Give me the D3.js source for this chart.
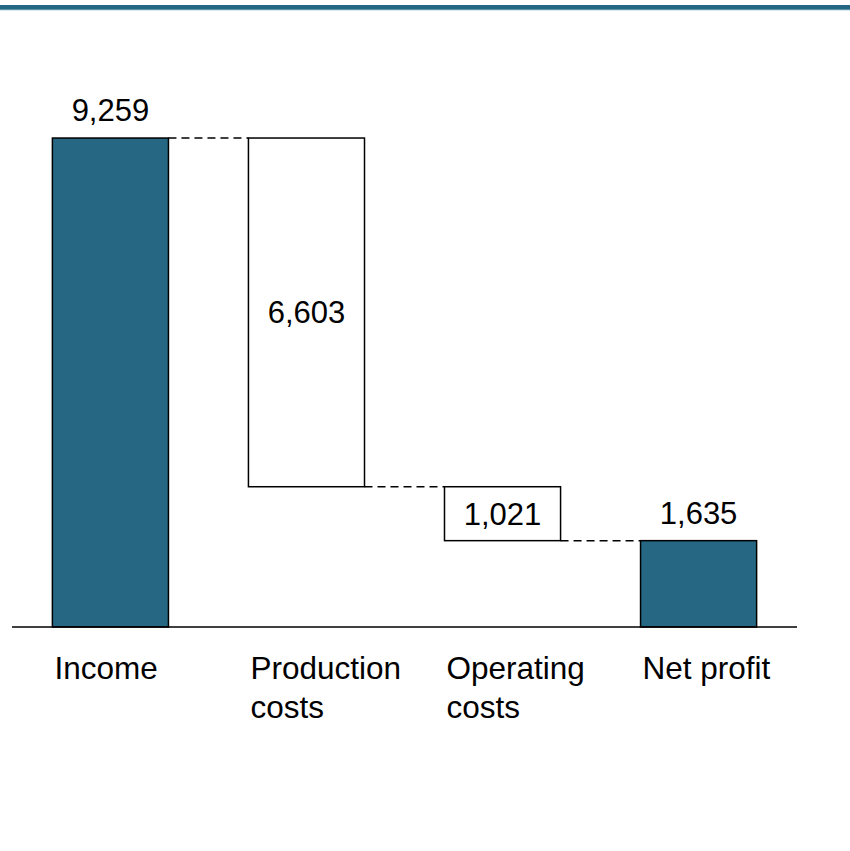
<!DOCTYPE html>
<html>
<head>
<meta charset="utf-8">
<script src="https://cdn.jsdelivr.net/npm/d3@7"></script>
<style>
  html, body { margin: 0; padding: 0; background: #fff; }
  svg { display: block; font-family: "Liberation Sans", Arial, sans-serif; }
</style>
</head>
<body>
<svg id="chart" width="850" height="851"></svg>
<script>
// ---- data ----
const categories = ["Income", "Production costs", "Operating costs", "Net profit"];
const categoryLines = [["Income"], ["Production", "costs"], ["Operating", "costs"], ["Net profit"]];
const values = [9259, -6603, -1021, 1635];
const kinds = ["total", "delta", "delta", "total"];
const valueLabels = ["9,259", "6,603", "1,021", "1,635"];

// ---- build waterfall segments ----
let running = 0;
const segs = categories.map((c, i) => {
  let y0, y1;
  if (kinds[i] === "total") { y0 = 0; y1 = values[i]; running = values[i]; }
  else { y1 = running; running = running + values[i]; y0 = running; }
  return { cat: c, lines: categoryLines[i], kind: kinds[i], lo: Math.min(y0, y1), hi: Math.max(y0, y1), label: valueLabels[i], end: running };
});

const svg = d3.select("#chart");
const baseY = 627;

const x = d3.scaleBand().domain(categories).range([12, 797]).paddingInner(0.408).paddingOuter(0.206);
const y = d3.scaleLinear().domain([0, 10000]).range([baseY, baseY - 528.1]);

// header band
svg.append("rect").attr("x", 0).attr("y", 5).attr("width", 850).attr("height", 4).attr("fill", "#266883");
svg.append("rect").attr("x", 0).attr("y", 9).attr("width", 850).attr("height", 1.2).attr("fill", "#5d93a8");

// connectors
for (let i = 0; i < segs.length - 1; i++) {
  const lvl = segs[i].end;
  svg.append("line")
    .attr("x1", x(segs[i].cat) + x.bandwidth())
    .attr("x2", x(segs[i + 1].cat))
    .attr("y1", y(lvl)).attr("y2", y(lvl))
    .attr("stroke", "#000").attr("stroke-width", 1.5)
    .attr("stroke-dasharray", "8,5");
}

// bars
svg.selectAll("rect.bar").data(segs).join("rect")
  .attr("class", "bar")
  .attr("x", d => x(d.cat))
  .attr("y", d => y(d.hi))
  .attr("width", x.bandwidth())
  .attr("height", d => y(d.lo) - y(d.hi))
  .attr("fill", d => d.kind === "total" ? "#266883" : "#fff")
  .attr("stroke", "#000")
  .attr("stroke-width", 1.5);

// axis baseline
svg.append("line").attr("x1", 12).attr("x2", 797).attr("y1", baseY).attr("y2", baseY)
  .attr("stroke", "#000").attr("stroke-width", 1.5);

// value labels
svg.selectAll("text.val").data(segs).join("text")
  .attr("class", "val")
  .attr("x", d => x(d.cat) + x.bandwidth() / 2)
  .attr("y", d => d.kind === "total" ? y(d.hi) - 17 : (y(d.hi) + y(d.lo)) / 2 + 11)
  .attr("text-anchor", "middle")
  .attr("font-size", 31)
  .attr("fill", "#000")
  .text(d => d.label);

// category labels
const cl = svg.selectAll("text.cat").data(segs).join("text")
  .attr("class", "cat")
  .attr("x", d => x(d.cat) + 2)
  .attr("y", 679)
  .attr("font-size", 31.5)
  .attr("fill", "#000");
cl.selectAll("tspan").data(d => d.lines.map(l => ({ l, x: x(d.cat) + 2 }))).join("tspan")
  .attr("x", t => t.x)
  .attr("dy", (t, i) => i === 0 ? 0 : 39)
  .text(t => t.l);
</script>
</body>
</html>
